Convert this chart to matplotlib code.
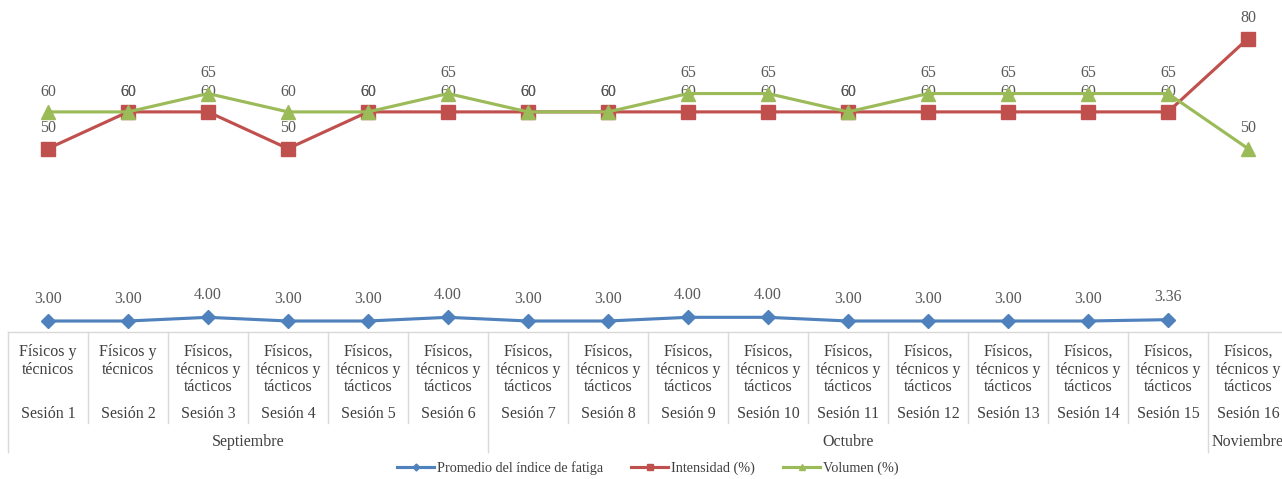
import matplotlib
matplotlib.use("Agg")
import matplotlib.pyplot as plt
import matplotlib.transforms as mtransforms

# Sessions, session content and month groups
sessions = [f"Sesión {i}" for i in range(1, 17)]
contenido = (["Físicos y\ntécnicos"] * 2 +
             ["Físicos,\ntécnicos y\ntácticos"] * 14)
meses = ["Septiembre", "Octubre", "Noviembre"]
sesiones_por_mes = [6, 9, 1]

# Series values
fatiga = [3.00, 3.00, 4.00, 3.00, 3.00, 4.00, 3.00, 3.00, 4.00, 4.00,
          3.00, 3.00, 3.00, 3.00, 3.36]
intensidad = [50, 60, 60, 50, 60, 60, 60, 60, 60, 60, 60, 60, 60, 60, 60, 80]
volumen = [60, 60, 65, 60, 60, 65, 60, 60, 65, 65, 60, 65, 65, 65, 65, 50]

W, H = 1282, 479
fig = plt.figure(figsize=(W / 100, H / 100), dpi=100)
plt.rcParams["font.family"] = ["Liberation Serif", "DejaVu Serif"]

# axes spans 16 category cells of 80 px starting at x=8 (last cell is cut at the edge)
ax_left, ax_right = 8, 8 + 16 * 80
ax_top, ax_bottom = 0, 332
ax = fig.add_axes([ax_left / W, 1 - ax_bottom / H,
                   (ax_right - ax_left) / W, (ax_bottom - ax_top) / H])
ax.set_xlim(-0.5, 15.5)
ax.set_ylim(0, 90.5)
ax.set_axis_off()

blue, red, green = "#4F81BD", "#C0504D", "#9BBB59"
label_color = "#595959"
text_color = "#404040"

x_f = list(range(len(fatiga)))
x_all = list(range(len(sessions)))

ax.plot(x_f, fatiga, color=blue, lw=2.25, marker="D", ms=7,
        label="Promedio del índice de fatiga", zorder=3)
ax.plot(x_all, intensidad, color=red, lw=2.25, marker="s", ms=10,
        label="Intensidad (%)", zorder=3)
ax.plot(x_all, volumen, color=green, lw=2.25, marker="^", ms=10,
        label="Volumen (%)", zorder=4)

# value labels above each point
for x, v in zip(x_f, fatiga):
    ax.annotate(f"{v:.2f}", (x, v), xytext=(0, 16), textcoords="offset points",
                ha="center", va="center", fontsize=11.5, color=label_color)
for series in (intensidad, volumen):
    for x, v in zip(x_all, series):
        ax.annotate(f"{v}", (x, v), xytext=(0, 14.5), textcoords="offset points",
                    ha="center", va="center", fontsize=11.5, color=label_color)

# multi-level category table below the plot
trans = mtransforms.blended_transform_factory(ax.transData, fig.transFigure)


def fy(py):
    return 1 - py / H


grid_color = "#D9D9D9"
ax.plot([-0.5, 15.5], [fy(332), fy(332)], transform=trans, color=grid_color,
        lw=1, clip_on=False)

group_edges = [0]
for n in sesiones_por_mes:
    group_edges.append(group_edges[-1] + n)

for i in range(len(sessions) + 1):
    xb = i - 0.5
    bottom = 452 if i in group_edges else 423
    ax.plot([xb, xb], [fy(332), fy(bottom)], transform=trans,
            color=grid_color, lw=1, clip_on=False)

for i, (c, s) in enumerate(zip(contenido, sessions)):
    for k, line in enumerate(c.split("\n")):
        ax.text(i, fy(352 + 17.5 * k), line, transform=trans, ha="center",
                va="center", fontsize=11.5, color=text_color)
    ax.text(i, fy(414), s, transform=trans, ha="center", va="center",
            fontsize=11.5, color=text_color)

for m, a, b in zip(meses, group_edges[:-1], group_edges[1:]):
    ax.text((a + b - 1) / 2, fy(442), m, transform=trans, ha="center",
            va="center", fontsize=11.5, color=text_color)

leg = fig.legend(loc="center", bbox_to_anchor=(648 / W, fy(468)), ncol=3,
                 frameon=False, fontsize=10.2, handlelength=2.6,
                 columnspacing=2.0, handletextpad=0.2, markerscale=0.5)
for t in leg.get_texts():
    t.set_color(text_color)

fig.savefig("out.png", dpi=100)
